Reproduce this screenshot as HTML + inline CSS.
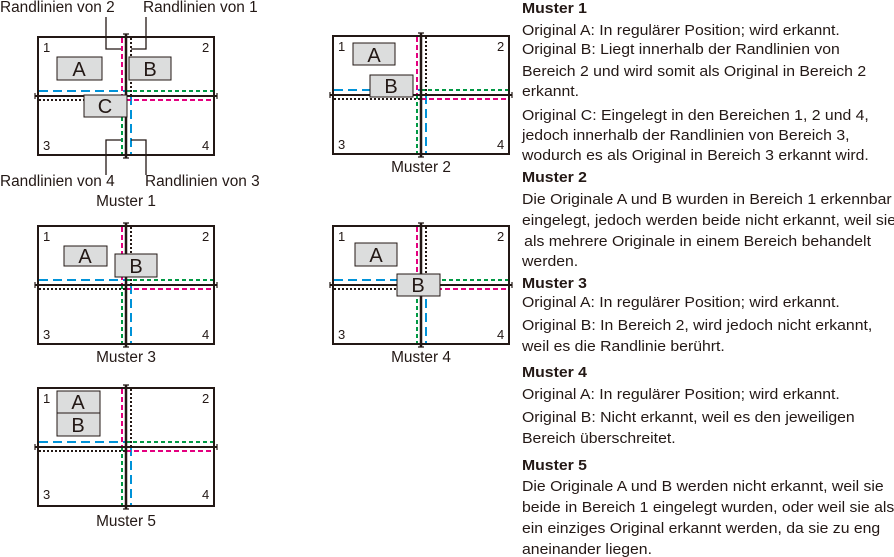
<!DOCTYPE html>
<html><head><meta charset="utf-8"><style>
body{margin:0;background:#fff;}
svg{display:block;font-family:"Liberation Sans",Arial,sans-serif;}
</style></head><body>
<svg width="894" height="557" viewBox="0 0 894 557" xmlns="http://www.w3.org/2000/svg">
<defs>
<g id="fr">
<rect x="0" y="0" width="176" height="118" fill="#fff" stroke="#231815" stroke-width="2"/>
<line x1="84" y1="1" x2="84" y2="59" stroke="#e4007f" stroke-width="2" stroke-dasharray="5,3"/>
<line x1="93" y1="1" x2="93" y2="59" stroke="#231815" stroke-width="2" stroke-dasharray="2,2"/>
<line x1="84" y1="59" x2="84" y2="117" stroke="#009944" stroke-width="2" stroke-dasharray="4,3"/>
<line x1="93" y1="59" x2="93" y2="117" stroke="#0092d8" stroke-width="2" stroke-dasharray="9,5"/>
<line x1="1" y1="54" x2="88" y2="54" stroke="#0092d8" stroke-width="2" stroke-dasharray="9,5"/>
<line x1="88" y1="54" x2="175" y2="54" stroke="#009944" stroke-width="2" stroke-dasharray="4,3"/>
<line x1="1" y1="63" x2="88" y2="63" stroke="#231815" stroke-width="2" stroke-dasharray="2,2"/>
<line x1="88" y1="63" x2="175" y2="63" stroke="#e4007f" stroke-width="2" stroke-dasharray="5,3"/>
<line x1="88" y1="-3" x2="88" y2="121" stroke="#231815" stroke-width="2.5"/>
<line x1="-3" y1="59" x2="179" y2="59" stroke="#231815" stroke-width="2"/>
<path d="M85,-3h6M85,121h6M-3,56v6M179,56v6" stroke="#231815" stroke-width="1.2"/>
</g>
</defs>
<g font-size="13" fill="#231815">
<g transform="translate(38,37)"><use href="#fr"/>
<rect x="19" y="20" width="45" height="23" fill="#dcdddd" stroke="#231815" stroke-width="1"/>
<rect x="91" y="20" width="42" height="23" fill="#dcdddd" stroke="#231815" stroke-width="1"/>
<rect x="46" y="58" width="43" height="22" fill="#dcdddd" stroke="#231815" stroke-width="1"/>
<text x="41" y="39" font-size="20" text-anchor="middle">A</text>
<text x="112" y="39" font-size="20" text-anchor="middle">B</text>
<text x="67" y="76" font-size="20" text-anchor="middle">C</text>
<text x="5" y="15">1</text><text x="164" y="15">2</text><text x="5" y="113">3</text><text x="164" y="113">4</text>
</g>
<path d="M106,17V49H121M146,17V49H131M106,175V140H121M146,175V140H131" fill="none" stroke="#231815" stroke-width="1.3"/>
<text x="0" y="12" font-size="15.4">Randlinien von 2</text>
<text x="143" y="12" font-size="15.4">Randlinien von 1</text>
<text x="0" y="186" font-size="15.4">Randlinien von 4</text>
<text x="145" y="186" font-size="15.4">Randlinien von 3</text>
<text x="126" y="206" font-size="15.4" text-anchor="middle">Muster 1</text>
<g transform="translate(333,36)"><use href="#fr"/>
<rect x="20" y="7" width="42" height="22" fill="#dcdddd" stroke="#231815" stroke-width="1"/>
<rect x="37" y="39" width="43" height="22" fill="#dcdddd" stroke="#231815" stroke-width="1"/>
<text x="41" y="26" font-size="20" text-anchor="middle">A</text>
<text x="58" y="57" font-size="20" text-anchor="middle">B</text>
<text x="5" y="15">1</text><text x="164" y="15">2</text><text x="5" y="113">3</text><text x="164" y="113">4</text>
</g>
<text x="421" y="172" font-size="15.4" text-anchor="middle">Muster 2</text>
<g transform="translate(38,226)"><use href="#fr"/>
<rect x="26" y="20" width="43" height="20" fill="#dcdddd" stroke="#231815" stroke-width="1"/>
<rect x="77" y="28" width="42" height="23" fill="#dcdddd" stroke="#231815" stroke-width="1"/>
<text x="47" y="37" font-size="20" text-anchor="middle">A</text>
<text x="98" y="47" font-size="20" text-anchor="middle">B</text>
<text x="5" y="15">1</text><text x="164" y="15">2</text><text x="5" y="113">3</text><text x="164" y="113">4</text>
</g>
<text x="126" y="362" font-size="15.4" text-anchor="middle">Muster 3</text>
<g transform="translate(333,226)"><use href="#fr"/>
<rect x="22" y="17" width="42" height="23" fill="#dcdddd" stroke="#231815" stroke-width="1"/>
<rect x="64" y="48" width="43" height="22" fill="#dcdddd" stroke="#231815" stroke-width="1"/>
<text x="43" y="36" font-size="20" text-anchor="middle">A</text>
<text x="85" y="66" font-size="20" text-anchor="middle">B</text>
<text x="5" y="15">1</text><text x="164" y="15">2</text><text x="5" y="113">3</text><text x="164" y="113">4</text>
</g>
<text x="421" y="362" font-size="15.4" text-anchor="middle">Muster 4</text>
<g transform="translate(38,388)"><use href="#fr"/>
<rect x="19" y="3" width="43" height="22" fill="#dcdddd" stroke="#231815" stroke-width="1"/>
<rect x="19" y="25" width="43" height="23" fill="#dcdddd" stroke="#231815" stroke-width="1"/>
<text x="40" y="21" font-size="20" text-anchor="middle">A</text>
<text x="40" y="44" font-size="20" text-anchor="middle">B</text>
<text x="5" y="15">1</text><text x="164" y="15">2</text><text x="5" y="111">3</text><text x="164" y="111">4</text>
</g>
<text x="126" y="526" font-size="15.4" text-anchor="middle">Muster 5</text>
</g>
<g font-size="14.5" fill="#231815" transform="translate(522,0) scale(1.09,1)">
<text x="0" y="13" font-weight="bold">Muster 1</text>
<text x="0" y="35">Original A: In regulärer Position; wird erkannt.</text>
<text x="0" y="54">Original B: Liegt innerhalb der Randlinien von</text>
<text x="0" y="76">Bereich 2 und wird somit als Original in Bereich 2</text>
<text x="0" y="96">erkannt.</text>
<text x="0" y="120">Original C: Eingelegt in den Bereichen 1, 2 und 4,</text>
<text x="0" y="140">jedoch innerhalb der Randlinien von Bereich 3,</text>
<text x="0" y="160">wodurch es als Original in Bereich 3 erkannt wird.</text>
<text x="0" y="182" font-weight="bold">Muster 2</text>
<text x="0" y="204">Die Originale A und B wurden in Bereich 1 erkennbar</text>
<text x="0" y="225">eingelegt, jedoch werden beide nicht erkannt, weil sie</text>
<text x="2" y="246">als mehrere Originale in einem Bereich behandelt</text>
<text x="0" y="266">werden.</text>
<text x="0" y="288" font-weight="bold">Muster 3</text>
<text x="0" y="307">Original A: In regulärer Position; wird erkannt.</text>
<text x="0" y="330">Original B: In Bereich 2, wird jedoch nicht erkannt,</text>
<text x="0" y="351">weil es die Randlinie berührt.</text>
<text x="0" y="377" font-weight="bold">Muster 4</text>
<text x="0" y="399">Original A: In regulärer Position; wird erkannt.</text>
<text x="0" y="422">Original B: Nicht erkannt, weil es den jeweiligen</text>
<text x="0" y="443">Bereich überschreitet.</text>
<text x="0" y="470" font-weight="bold">Muster 5</text>
<text x="0" y="491">Die Originale A und B werden nicht erkannt, weil sie</text>
<text x="0" y="512">beide in Bereich 1 eingelegt wurden, oder weil sie als</text>
<text x="0" y="533">ein einziges Original erkannt werden, da sie zu eng</text>
<text x="0" y="554">aneinander liegen.</text>
</g>
</svg>
</body></html>
